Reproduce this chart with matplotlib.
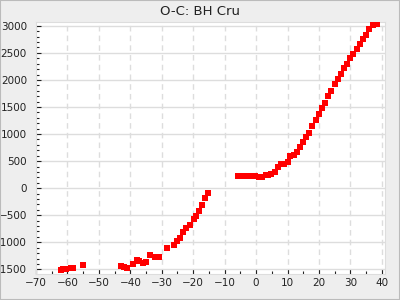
import matplotlib
matplotlib.use("Agg")
import matplotlib.pyplot as plt
from matplotlib.ticker import MultipleLocator
from matplotlib.patches import Rectangle

title = "O-C: BH Cru"
cycles = [-62.2, -61.3, -60.5, -59.0, -58.1, -55.2, -43.0, -42.0, -41.1, -39.0,
          -38.0, -37.1, -36.0, -35.1, -33.9, -32.0, -30.9, -28.2, -26.0, -25.0,
          -24.1, -23.1, -22.2, -20.9, -19.9, -19.0, -18.0, -17.1, -16.1, -15.2,
          -5.9, -4.9, -3.9, -2.3, -1.4, -0.3, 1.0, 2.0, 3.0, 3.9,
          4.9, 6.1, 7.1, 8.0, 9.0, 10.0, 10.9, 12.2, 13.1, 14.1,
          15.0, 16.0, 16.9, 17.9, 19.2, 20.1, 21.1, 22.0, 23.0, 23.9,
          25.1, 26.1, 27.0, 28.0, 28.9, 29.9, 30.8, 32.2, 33.2, 34.1,
          35.1, 36.0, 37.1, 38.4]
oc = [-1512, -1494, -1488, -1475, -1475, -1425, -1438, -1462, -1481, -1407,
      -1328, -1346, -1389, -1370, -1241, -1278, -1278, -1112, -1057, -977,
      -928, -817, -743, -688, -577, -522, -430, -319, -190, -98,
      221, 221, 221, 221, 221, 221, 203, 203, 240, 240,
      271, 308, 387, 450, 450, 487, 590, 614, 670, 769,
      861, 953, 1027, 1143, 1267, 1377, 1488, 1580, 1709, 1794,
      1931, 2010, 2115, 2226, 2299, 2410, 2484, 2576, 2668, 2761,
      2821, 2932, 3006, 3037]

fig = plt.figure(figsize=(4, 3), dpi=100, facecolor="#eeeeee")
ax = fig.add_axes([0.09, 0.0867, 0.8725, 0.84])
ax.set_facecolor("white")

ax.plot(cycles, oc, linestyle="none", marker="s", markersize=4.3,
        color="#ff0000", markeredgewidth=0, zorder=3)

ax.set_xlim(-70, 41)
ax.set_ylim(-1585, 3070)
ax.xaxis.set_major_locator(MultipleLocator(10))
ax.xaxis.set_minor_locator(MultipleLocator(5))
ax.yaxis.set_major_locator(MultipleLocator(500))
ax.yaxis.set_minor_locator(MultipleLocator(100))

ax.grid(axis="y", which="major", color="#dddddd", linewidth=1, linestyle="-")
ax.grid(axis="x", which="major", color="#dddddd", linewidth=1, linestyle=(0, (4, 3)))
ax.set_axisbelow(True)

ax.tick_params(which="major", direction="in", length=3.4, width=0.8,
               labelsize=7.5, color="#222222", labelcolor="#222222")
ax.tick_params(which="minor", direction="in", length=2, width=0.8, color="#222222")
ax.tick_params(axis="y", which="both", left=True, right=False, pad=6.5)
ax.tick_params(axis="x", which="both", bottom=True, top=False, pad=3)

for s in ax.spines.values():
    s.set_color("#dddddd")
    s.set_linewidth(0.8)

fig.text(0.5, 0.962, title, ha="center", va="center", fontsize=9.5, color="#222222")
fig.patches.append(Rectangle((0, 0), 1, 1, transform=fig.transFigure, fill=False,
                             edgecolor="#bbbbbb", linewidth=1.5))

fig.savefig("out.png", dpi=100, facecolor=fig.get_facecolor())
